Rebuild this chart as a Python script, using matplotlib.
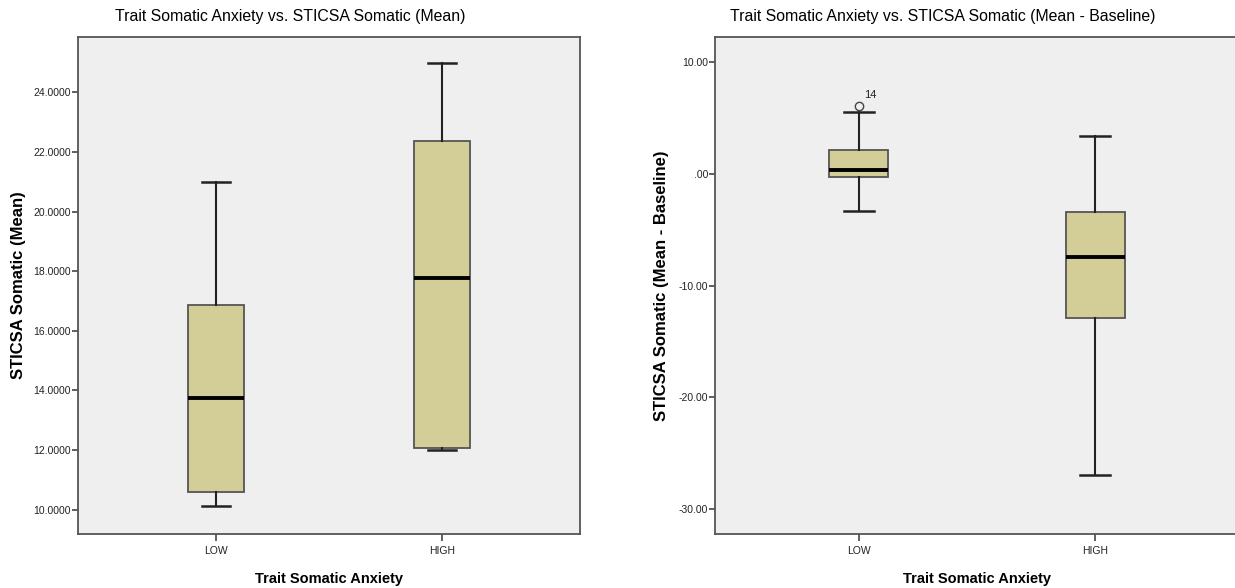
import matplotlib
matplotlib.use("Agg")
import matplotlib.pyplot as plt
from matplotlib.ticker import FuncFormatter

# group labels
groups = ["LOW", "HIGH"]

# left panel: STICSA Somatic (Mean)
mean_whislo = [10.13, 12.0]
mean_q1 = [10.58, 12.07]
mean_med = [13.75, 17.77]
mean_q3 = [16.88, 22.38]
mean_whishi = [21.0, 25.0]
mean_fliers = [[], []]
mean_yticks = [10, 12, 14, 16, 18, 20, 22, 24]

# right panel: STICSA Somatic (Mean - Baseline)
diff_whislo = [-3.37, -27.0]
diff_q1 = [-0.27, -12.9]
diff_med = [0.3, -7.49]
diff_q3 = [2.12, -3.46]
diff_whishi = [5.55, 3.4]
diff_fliers = [[6.03], []]
diff_flier_ids = [["14"], []]
diff_yticks = [-30, -20, -10, 0, 10]

box_fill = "#d3ce97"
bg = "#efefef"
narrow = ["Liberation Sans Narrow", "Liberation Sans", "DejaVu Sans"]
wide = ["Liberation Sans", "DejaVu Sans"]


def make_stats(lo, q1, med, q3, hi, fl):
    out = []
    for i in range(len(lo)):
        out.append(dict(whislo=lo[i], q1=q1[i], med=med[i], q3=q3[i],
                        whishi=hi[i], fliers=fl[i], label=groups[i]))
    return out


def fmt_mean(v, pos):
    return "%.4f" % v


def fmt_diff(v, pos):
    s = "%.2f" % v
    if s.startswith("0."):
        s = s[1:]
    if s == "-0.00":
        s = ".00"
    return s


def draw(ax, stats, ylim, yticks, formatter, ylabel):
    ax.set_facecolor(bg)
    ax.bxp(stats, positions=[1, 2], widths=0.25, capwidths=0.125,
           patch_artist=True,
           boxprops=dict(facecolor=box_fill, edgecolor="#555555", linewidth=1.3),
           medianprops=dict(color="black", linewidth=2.8, solid_capstyle="butt"),
           whiskerprops=dict(color="#222222", linewidth=1.5),
           capprops=dict(color="#222222", linewidth=1.8),
           flierprops=dict(marker="o", markerfacecolor="none",
                           markeredgecolor="#444444", markersize=6,
                           markeredgewidth=1.0))
    ax.set_xlim(0.39, 2.61)
    ax.set_ylim(*ylim)
    ax.set_yticks(yticks)
    ax.yaxis.set_major_formatter(FuncFormatter(formatter))
    ax.set_xticks([1, 2])
    ax.set_xticklabels(groups)
    for sp in ax.spines.values():
        sp.set_color("#555555")
        sp.set_linewidth(1.3)
    ax.tick_params(axis="both", direction="out", length=4, width=1.2,
                   color="#444444", labelsize=7.5, labelcolor="#222222", pad=1)
    ax.tick_params(axis="x", pad=4, length=5)
    for lbl in ax.get_yticklabels() + ax.get_xticklabels():
        lbl.set_family(narrow)
    ax.set_xlabel("Trait Somatic Anxiety", family=narrow, fontweight="bold",
                  fontsize=10.5, labelpad=11)
    ax.set_ylabel(ylabel, family=wide, fontweight="bold", fontsize=12,
                  labelpad=6)


fig = plt.figure(figsize=(12.35, 5.88), dpi=100)
ax1 = fig.add_axes([78 / 1235, 54 / 588, 502 / 1235, 497 / 588])
ax2 = fig.add_axes([715 / 1235, 54 / 588, 524 / 1235, 497 / 588])

draw(ax1, make_stats(mean_whislo, mean_q1, mean_med, mean_q3, mean_whishi, mean_fliers),
     (9.18, 25.86), mean_yticks, fmt_mean, "STICSA Somatic (Mean)")
draw(ax2, make_stats(diff_whislo, diff_q1, diff_med, diff_q3, diff_whishi, diff_fliers),
     (-32.24, 12.24), diff_yticks, fmt_diff, "STICSA Somatic (Mean - Baseline)")

# case id next to outlier
for i, vals in enumerate(diff_fliers):
    for v, name in zip(vals, diff_flier_ids[i]):
        ax2.annotate(name, (i + 1, v), xytext=(4, 6), textcoords="offset points",
                     fontsize=8, family=narrow, color="#222222")

ax1.yaxis.set_label_coords(-0.104, 0.5)
ax2.yaxis.set_label_coords(-0.088, 0.5)

fig.text(290 / 1235, 1 - 16 / 588, "Trait Somatic Anxiety vs. STICSA Somatic (Mean)",
         ha="center", va="center", fontsize=11.4, family=narrow)
fig.text(943 / 1235, 1 - 16 / 588, "Trait Somatic Anxiety vs. STICSA Somatic (Mean - Baseline)",
         ha="center", va="center", fontsize=11.4, family=narrow)

fig.savefig("out.png", dpi=100, facecolor="white")
